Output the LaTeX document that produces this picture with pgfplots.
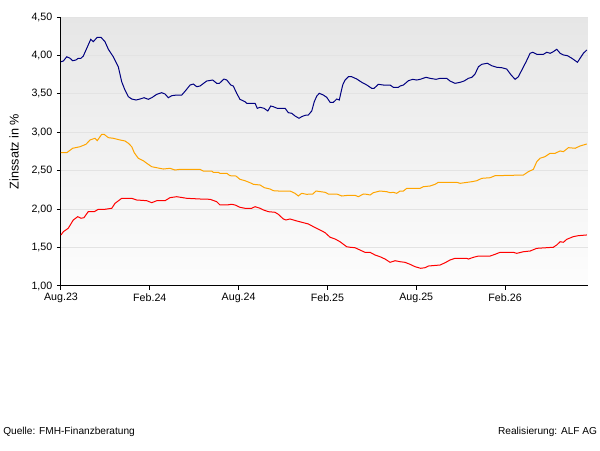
\documentclass[border=0pt]{standalone}
\usepackage{fontspec}
\setmainfont{Liberation Sans}
\usepackage{pgfplots}
\pgfplotsset{compat=1.18}
\definecolor{cblue}{HTML}{000080}
\definecolor{corange}{HTML}{FFA500}
\definecolor{cred}{HTML}{FF0000}
\definecolor{bgtop}{HTML}{E6E6E6}
\definecolor{bgbot}{HTML}{FDFDFD}
\definecolor{gridc}{HTML}{E3E3E3}
\begin{document}
\begin{tikzpicture}
\useasboundingbox (0,0) rectangle (450pt,337.5pt);
\fill[white] (0,0) rectangle (450pt,337.5pt);
\begin{axis}[
  at={(45.75pt,123pt)}, anchor=south west,
  scale only axis, width=394.9pt, height=201.75pt,
  xmin=0, xmax=35.57, ymin=1, ymax=4.5,
  axis x line*=bottom, axis y line*=left,
  axis line style={black, line width=0.75pt},
  tick align=outside, major tick length=3pt,
  tick style={black, line width=0.75pt},
  xtick={0,6,12,18,24,30},
  xticklabels={Aug.23,Feb.24,Aug.24,Feb.25,Aug.25,Feb.26},
  ytick={1,1.5,2,2.5,3,3.5,4,4.5},
  ymajorgrids,
  major grid style={gridc, line width=0.75pt},
  axis background/.style={top color=bgtop, bottom color=bgbot},
  tick label style={font=\fontsize{8}{9}\selectfont},
  /pgf/number format/assume math mode=true,
  yticklabel style={/pgf/number format/.cd, fixed, fixed zerofill, precision=2, use comma},
  xticklabel style={yshift=1pt},
  ylabel={Zinssatz in \%},
  ylabel style={font=\fontsize{9.5}{11}\selectfont, at={(axis description cs:0,0.5)}, anchor=center, yshift=35.25pt},
  clip=false,
]
\addplot[cblue, line width=0.75pt] coordinates {
(0,3.918)(0.16,3.928)(0.39,3.983)(0.61,3.963)(0.79,3.931)(1.01,3.941)(1.17,3.963)(1.35,3.963)(1.51,3.993)(1.69,4.071)(2.01,4.210)(2.18,4.179)(2.45,4.236)(2.70,4.236)(2.97,4.179)(3.20,4.080)(3.53,3.983)(3.87,3.853)(4.10,3.658)(4.32,3.550)(4.55,3.463)(4.78,3.433)(5.07,3.420)(5.34,3.433)(5.61,3.450)(5.90,3.429)(6.13,3.450)(6.47,3.494)(6.80,3.515)(7.03,3.498)(7.25,3.450)(7.48,3.476)(7.82,3.485)(8.16,3.485)(8.45,3.550)(8.72,3.615)(8.94,3.628)(9.17,3.593)(9.39,3.602)(9.84,3.667)(10.25,3.680)(10.52,3.637)(10.70,3.637)(11.01,3.693)(11.20,3.680)(11.47,3.615)(11.64,3.602)(11.87,3.507)(12.09,3.429)(12.43,3.398)(12.55,3.377)(13.11,3.377)(13.26,3.312)(13.45,3.325)(13.72,3.312)(13.97,3.277)(14.17,3.342)(14.34,3.333)(14.61,3.312)(15.14,3.312)(15.36,3.255)(15.59,3.247)(15.81,3.212)(16.08,3.182)(16.26,3.203)(16.49,3.221)(16.71,3.225)(16.94,3.277)(17.11,3.398)(17.28,3.472)(17.45,3.507)(17.72,3.485)(17.95,3.455)(18.18,3.390)(18.40,3.390)(18.63,3.433)(18.80,3.420)(18.90,3.507)(19.03,3.615)(19.19,3.680)(19.41,3.723)(19.64,3.723)(19.98,3.693)(20.32,3.650)(20.66,3.615)(20.99,3.572)(21.15,3.572)(21.44,3.624)(21.78,3.615)(22.23,3.615)(22.45,3.585)(22.79,3.585)(22.91,3.602)(23.13,3.615)(23.47,3.671)(23.76,3.689)(24.03,3.680)(24.26,3.689)(24.66,3.715)(24.93,3.702)(25.34,3.689)(25.61,3.702)(26.06,3.702)(26.28,3.667)(26.62,3.637)(26.96,3.650)(27.23,3.667)(27.52,3.702)(27.75,3.715)(27.97,3.758)(28.20,3.853)(28.43,3.885)(28.80,3.898)(29.10,3.866)(29.44,3.846)(29.78,3.840)(30.11,3.823)(30.41,3.745)(30.68,3.689)(30.90,3.723)(31.13,3.810)(31.42,3.918)(31.69,4.028)(31.87,4.041)(32.14,4.015)(32.59,4.015)(32.82,4.041)(33.04,4.028)(33.26,4.049)(33.49,4.080)(33.72,4.028)(33.94,4.006)(34.21,3.997)(34.51,3.963)(34.89,3.911)(35.11,3.976)(35.29,4.028)(35.52,4.071)
};
\addplot[corange, line width=0.75pt] coordinates {
(0,2.734)(0.39,2.734)(0.79,2.792)(1.28,2.812)(1.69,2.844)(1.96,2.900)(2.30,2.922)(2.45,2.891)(2.75,2.974)(2.91,2.974)(3.20,2.930)(3.53,2.922)(3.99,2.900)(4.32,2.887)(4.55,2.857)(4.78,2.812)(4.95,2.734)(5.22,2.662)(5.56,2.630)(5.79,2.597)(6.13,2.552)(6.47,2.539)(6.91,2.522)(7.36,2.531)(7.70,2.509)(8.04,2.518)(9.39,2.518)(9.61,2.496)(10.18,2.496)(10.29,2.479)(10.63,2.479)(10.74,2.466)(11.20,2.466)(11.42,2.435)(11.82,2.431)(12.09,2.388)(12.43,2.370)(12.77,2.344)(12.99,2.323)(13.45,2.314)(13.74,2.279)(14.12,2.262)(14.34,2.240)(14.68,2.236)(15.47,2.236)(15.81,2.206)(16.03,2.171)(16.26,2.206)(16.60,2.193)(17.01,2.197)(17.23,2.236)(17.84,2.219)(18.06,2.197)(18.63,2.197)(18.97,2.171)(19.41,2.180)(19.86,2.180)(20.09,2.162)(20.43,2.197)(20.66,2.193)(20.88,2.184)(21.10,2.214)(21.55,2.236)(22.01,2.227)(22.23,2.214)(22.45,2.219)(22.68,2.206)(22.91,2.236)(23.13,2.236)(23.36,2.271)(24.26,2.271)(24.48,2.292)(24.93,2.301)(25.27,2.323)(25.49,2.349)(26.74,2.349)(26.96,2.336)(27.75,2.357)(28.09,2.370)(28.43,2.401)(28.99,2.409)(29.32,2.435)(31.24,2.444)(31.57,2.487)(31.91,2.518)(32.14,2.617)(32.36,2.662)(32.70,2.683)(33.04,2.727)(33.38,2.727)(33.72,2.757)(33.94,2.748)(34.28,2.800)(34.73,2.792)(35.07,2.822)(35.52,2.848)
};
\addplot[cred, line width=0.75pt] coordinates {
(0,1.664)(0.16,1.707)(0.49,1.751)(0.83,1.859)(1.13,1.902)(1.35,1.881)(1.55,1.889)(1.84,1.967)(2.25,1.967)(2.52,1.998)(2.97,1.998)(3.43,2.011)(3.65,2.076)(4.10,2.141)(4.78,2.141)(5.11,2.119)(5.79,2.110)(6.13,2.084)(6.47,2.110)(7.03,2.110)(7.36,2.149)(7.82,2.162)(8.49,2.141)(9.39,2.132)(10.07,2.128)(10.52,2.097)(10.74,2.054)(11.20,2.054)(11.53,2.063)(11.76,2.054)(12.09,2.024)(12.43,2.011)(12.88,2.011)(13.11,2.032)(13.45,2.011)(13.68,1.989)(14.01,1.967)(14.46,1.959)(14.68,1.933)(15.02,1.872)(15.20,1.859)(15.47,1.872)(15.93,1.846)(16.37,1.824)(16.71,1.807)(17.05,1.772)(17.50,1.729)(17.84,1.694)(18.18,1.634)(18.51,1.612)(18.85,1.576)(19.30,1.511)(19.53,1.504)(19.86,1.498)(20.20,1.468)(20.54,1.438)(20.88,1.438)(21.22,1.403)(21.55,1.381)(21.89,1.351)(22.23,1.308)(22.57,1.329)(22.91,1.316)(23.24,1.308)(23.58,1.282)(23.92,1.251)(24.30,1.230)(24.59,1.238)(24.82,1.260)(25.61,1.273)(25.95,1.303)(26.28,1.338)(26.62,1.360)(27.41,1.360)(27.52,1.351)(27.86,1.373)(28.20,1.390)(28.99,1.390)(29.32,1.412)(29.66,1.438)(30.56,1.438)(30.79,1.425)(31.24,1.446)(31.69,1.455)(32.14,1.490)(33.26,1.504)(33.49,1.534)(33.72,1.576)(33.94,1.569)(34.17,1.608)(34.61,1.642)(34.95,1.655)(35.52,1.664)
};
\end{axis}
\node[anchor=west, font=\fontsize{7.6}{9}\selectfont, inner sep=0pt] at (2.25pt,13.5pt) {Quelle: FMH-Finanzberatung};
\node[anchor=east, font=\fontsize{7.6}{9}\selectfont, inner sep=0pt] at (448pt,13.5pt) {Realisierung: ALF AG};
\end{tikzpicture}
\end{document}
